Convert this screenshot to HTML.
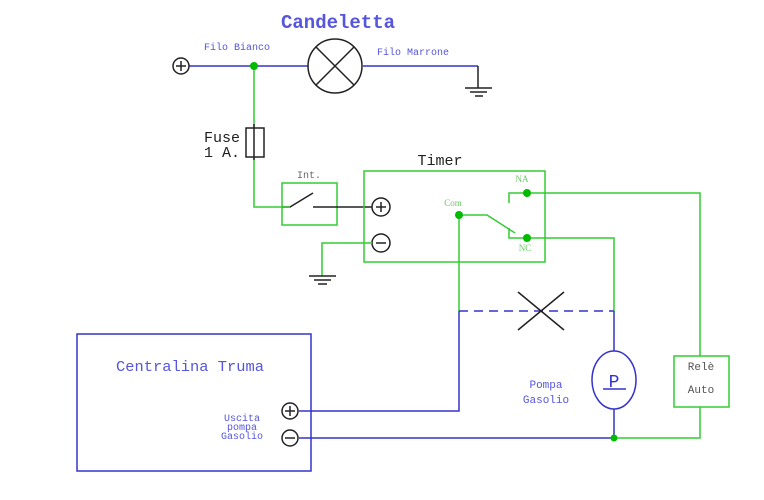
<!DOCTYPE html>
<html><head><style>body{margin:0;background:#fff}svg{display:block}</style></head><body>
<svg width="764" height="500" viewBox="0 0 764 500" xmlns="http://www.w3.org/2000/svg" font-family="Liberation Mono, monospace">
<rect width="764" height="500" fill="#fff"/>
<g fill="none" stroke-width="1.5">
<line x1="189" y1="66" x2="308" y2="66" stroke="#3333cc"/>
<line x1="363" y1="66" x2="478" y2="66" stroke="#3333cc"/>
<line x1="478" y1="66" x2="478" y2="88" stroke="#222"/>
<line x1="465" y1="88" x2="492" y2="88" stroke="#222"/>
<line x1="470" y1="92" x2="487" y2="92" stroke="#222"/>
<line x1="475" y1="96" x2="483" y2="96" stroke="#222"/>
<circle cx="181" cy="66" r="8" stroke="#222"/>
<path d="M176 66h10M181 61v10" stroke="#222"/>
<circle cx="335" cy="66" r="27" stroke="#222"/>
<path d="M316 47L354 85M354 47L316 85" stroke="#222"/>
<path d="M254 66V128M254 157V207H282" stroke="#33cc33"/>
<rect x="246" y="128" width="18" height="29" stroke="#222"/>
<line x1="254" y1="124" x2="254" y2="160" stroke="#222"/>
<rect x="282" y="183" width="55" height="42" stroke="#33cc33"/>
<path d="M282 207H290L313 193M313 207H372" stroke="#222"/>
<line x1="282" y1="207" x2="290" y2="207" stroke="#33cc33"/>
<circle cx="381" cy="207" r="9" stroke="#222"/>
<path d="M376 207h10M381 202v10" stroke="#222"/>
<circle cx="381" cy="243" r="9" stroke="#222"/>
<path d="M376 243h10" stroke="#222"/>
<path d="M372 243H322V276" stroke="#33cc33"/>
<path d="M309 276h27M314 280h17M318 284h9" stroke="#222"/>
<rect x="364" y="171" width="181" height="91" stroke="#33cc33"/>
<path d="M459 215H487L515 233M509 228V238H527M509 203V193H700V356M527 238H614V311" stroke="#33cc33"/>
<path d="M459 215V311" stroke="#33cc33"/>
<path d="M459 311V411H299M299 438H614M614 311V351M614 409V438" stroke="#3333cc"/>
<path d="M459 311H614" stroke="#3333cc" stroke-dasharray="9,6"/>
<path d="M518 292L564 330M564 292L518 330" stroke="#222"/>
<path d="M614 438H700V407" stroke="#33cc33"/>
<rect x="674" y="356" width="55" height="51" stroke="#33cc33"/>
<ellipse cx="614" cy="380" rx="22" ry="29" stroke="#3333cc"/>
<line x1="603" y1="389" x2="626" y2="389" stroke="#3333cc"/>
<rect x="77" y="334" width="234" height="137" stroke="#3333cc"/>
<circle cx="290" cy="411" r="8" stroke="#222"/>
<path d="M285 411h10M290 406v10" stroke="#222"/>
<circle cx="290" cy="438" r="8" stroke="#222"/>
<path d="M285 438h10" stroke="#222"/>
</g>
<g fill="#00bb00">
<circle cx="254" cy="66" r="4"/><circle cx="459" cy="215" r="4"/><circle cx="527" cy="193" r="4"/><circle cx="527" cy="238" r="4"/><circle cx="614" cy="438" r="3.5"/>
</g>
<g fill="#5555dd">
<text x="338" y="28" font-size="19" text-anchor="middle" font-family="Liberation Mono, monospace" font-weight="bold">Candeletta</text>
<text x="204" y="50" font-size="10">Filo Bianco</text>
<text x="377" y="55" font-size="10">Filo Marrone</text>
<text x="190" y="371" font-size="15" text-anchor="middle" font-family="Liberation Mono, monospace" textLength="148" lengthAdjust="spacingAndGlyphs">Centralina Truma</text>
<text x="242" y="421" font-size="10" text-anchor="middle">Uscita</text>
<text x="242" y="430" font-size="10" text-anchor="middle">pompa</text>
<text x="242" y="439" font-size="10" text-anchor="middle">Gasolio</text>
<text x="546" y="388" font-size="11" text-anchor="middle">Pompa</text>
<text x="546" y="403" font-size="11" text-anchor="middle">Gasolio</text>
<text x="614" y="387" font-size="18" text-anchor="middle" fill="#3333cc">P</text>
</g>
<g fill="#222" font-family="Liberation Mono, monospace">
<text x="204" y="142" font-size="15">Fuse</text>
<text x="204" y="157" font-size="15">1 A.</text>
<text x="440" y="165" font-size="15" text-anchor="middle">Timer</text>
<text x="309" y="178" font-size="10" text-anchor="middle" fill="#666">Int.</text>
<text x="701" y="370" font-size="11" text-anchor="middle" fill="#555">Relè</text>
<text x="701" y="393" font-size="11" text-anchor="middle" fill="#555">Auto</text>
</g>
<g fill="#66cc66" font-size="9" font-family="Liberation Serif, serif">
<text x="453" y="206" text-anchor="middle">Com</text>
<text x="522" y="182" text-anchor="middle">NA</text>
<text x="525" y="251" text-anchor="middle">NC</text>
</g>
</svg>
</body></html>
